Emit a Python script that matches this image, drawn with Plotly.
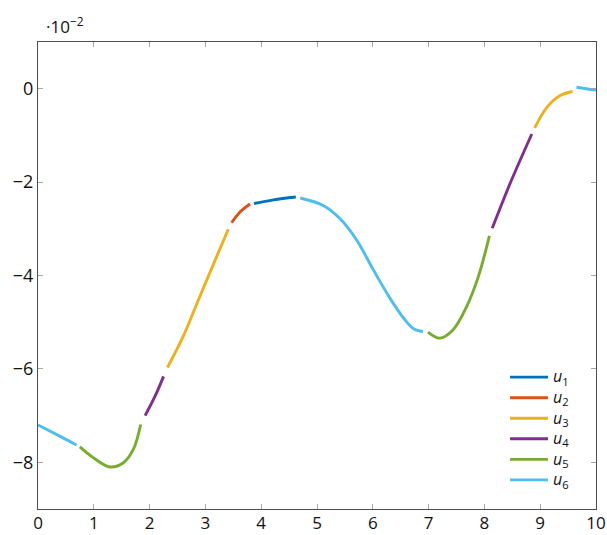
import plotly.graph_objects as go

# Series names (legend) and colours
series_names = ["u1", "u2", "u3", "u4", "u5", "u6"]
series_subs = ["1", "2", "3", "4", "5", "6"]
series_colors = ["#0072BD", "#D95319", "#EDB120", "#7E2F8E", "#77AC30", "#4DBEEE"]

# Piecewise curve segments (values in units of 1e-2)
seg_series = ["u6", "u5", "u4", "u3", "u2", "u1", "u6", "u5", "u4", "u3", "u6"]
seg_x = [
    [0.00, 0.39, 0.69],
    [0.75, 0.99, 1.29, 1.53, 1.71, 1.84],
    [1.92, 2.10, 2.25],
    [2.32, 2.60, 2.90, 3.20, 3.41],
    [3.47, 3.62, 3.80],
    [3.87, 4.22, 4.62],
    [4.70, 5.11, 5.41, 5.71, 6.01, 6.31, 6.55, 6.73, 6.90],
    [6.99, 7.20, 7.44, 7.68, 7.89, 8.09],
    [8.14, 8.46, 8.85],
    [8.90, 9.12, 9.35, 9.58],
    [9.65, 9.92, 10.00],
]
seg_y = [
    [-7.20, -7.44, -7.63],
    [-7.67, -7.90, -8.10, -8.01, -7.72, -7.19],
    [-7.00, -6.58, -6.16],
    [-5.97, -5.31, -4.45, -3.60, -3.01],
    [-2.87, -2.64, -2.47],
    [-2.46, -2.38, -2.32],
    [-2.34, -2.50, -2.78, -3.24, -3.88, -4.49, -4.91, -5.14, -5.20],
    [-5.21, -5.34, -5.16, -4.67, -4.03, -3.15],
    [-2.99, -2.03, -0.97],
    [-0.84, -0.40, -0.15, -0.06],
    [0.03, -0.02, -0.03],
]

x_ticks = [0, 1, 2, 3, 4, 5, 6, 7, 8, 9, 10]
y_ticks = [-8, -6, -4, -2, 0]

FONT = "Open Sans"

fig = go.Figure()
shown = set()
for sx, sy, name in zip(seg_x, seg_y, seg_series):
    idx = series_names.index(name)
    label = ("<span style='font-size:16px'><i>u</i><sub>%s</sub></span>"
             % series_subs[idx])
    fig.add_trace(go.Scatter(
        x=sx, y=sy, mode="lines",
        line=dict(color=series_colors[idx], width=2.9, shape="spline", smoothing=1.0),
        name=label,
        legendgroup=name,
        legendrank=idx + 1,
        showlegend=name not in shown,
        hoverinfo="skip",
    ))
    shown.add(name)

axis_common = dict(
    showline=True, linecolor="#4d4d4d", linewidth=1.3, mirror="ticks",
    ticks="inside", ticklen=5, tickcolor="#a6a6a6", tickwidth=1.2,
    showgrid=False, zeroline=False,
)

fig.update_layout(
    width=607, height=535,
    margin=dict(l=38, r=11, t=42, b=26, autoexpand=False),
    paper_bgcolor="white", plot_bgcolor="white",
    font=dict(family=FONT, size=16, color="#111"),
    xaxis=dict(range=[0, 10], tickvals=x_ticks, ticklabelstandoff=-2,
               tickfont=dict(family=FONT, size=17, color="#111"), **axis_common),
    yaxis=dict(range=[-9, 1], tickvals=y_ticks,
               tickfont=dict(family=FONT, size=18, color="#111"), **axis_common),
    legend=dict(
        x=0.837, y=0.315, xanchor="left", yanchor="top",
        bgcolor="rgba(255,255,255,0)", borderwidth=0,
        font=dict(family=FONT, size=13.5), tracegroupgap=0,
        itemwidth=38,
    ),
    showlegend=True,
    annotations=[dict(
        text="·10<sup>−2</sup>", x=0, y=1, xref="paper", yref="paper",
        xanchor="left", yanchor="bottom", xshift=6, yshift=2,
        showarrow=False, font=dict(family=FONT, size=17, color="#111"),
    )],
)

fig.write_html("out.html")
